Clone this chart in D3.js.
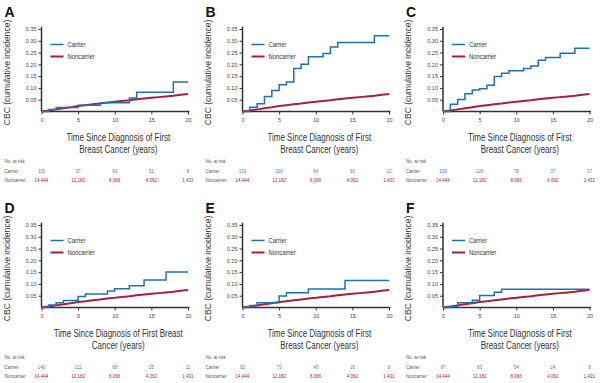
<!DOCTYPE html>
<html><head><meta charset="utf-8">
<script src="https://cdn.jsdelivr.net/npm/d3@7"></script>
<style>
body{margin:0;background:#fff;}
svg{display:block;}
text{font-family:"Liberation Sans",Arial,sans-serif;}
</style></head>
<body><svg id="chart" width="600" height="383"></svg>
<script>
const panelLabels = ["A","B","C","D","E","F"];
const xTicks = [0,5,10,15,20];
const yTicks = [0.05,0.10,0.15,0.20,0.25,0.30,0.35];
const seriesNames = ["Carrier","Noncarrier"];

const noncarrierYears = [0,1,2,3,4,5,6,7,8,9,10,11,12,13,14,15,16,17,18,19,20];
const noncarrierCBC = [0,0.004,0.009,0.014,0.018,0.023,0.027,0.031,0.034,0.038,0.041,0.045,0.048,0.052,0.055,0.058,0.061,0.064,0.067,0.071,0.074];

const carrierA = [[0,0],[1,0.008],[2,0.017],[5,0.027],[8,0.037],[12,0.057],[13,0.082],[18,0.125],[20,0.125]];
const carrierB = [[0,0],[1,0.018],[2,0.033],[3,0.064],[4,0.089],[5,0.114],[6,0.125],[7,0.182],[8,0.200],[9,0.232],[11,0.246],[12,0.274],[13,0.293],[18,0.321],[20,0.321]];
const carrierC = [[0,0],[1,0.031],[2,0.051],[3,0.075],[4,0.091],[5,0.097],[6,0.111],[7,0.148],[8,0.162],[9,0.173],[11,0.182],[12,0.193],[13,0.217],[14,0.229],[16,0.247],[18,0.268],[20,0.268]];
const carrierD = [[0,0],[1,0.011],[2,0.020],[3,0.030],[5,0.047],[6,0.057],[9,0.070],[10,0.080],[12,0.092],[14,0.117],[17,0.151],[20,0.151]];
const carrierE = [[0,0],[1,0.008],[2,0.020],[5,0.049],[6,0.063],[9,0.079],[14,0.115],[20,0.115]];
const carrierF = [[0,0],[1,0.004],[2,0.020],[4,0.031],[5,0.051],[7,0.065],[8,0.077],[20,0.077]];

const atRiskCarrierA = ["116","97","60","31","8"];
const atRiskCarrierB = ["131","100","64","30","12"];
const atRiskCarrierC = ["109","126","78","37","17"];
const atRiskCarrierD = ["140","111","68","25","11"];
const atRiskCarrierE = ["92","73","45","16","8"];
const atRiskCarrierF = ["97","83","54","24","8"];
const atRiskNoncarrier = ["14,444","12,182","8,066","4,062","1,431"];

const xTitleTop = ["Time Since Diagnosis of First","Breast Cancer (years)"];
const xTitleD = ["Time Since Diagnosis of First Breast","Cancer (years)"];

const carriers = [carrierA,carrierB,carrierC,carrierD,carrierE,carrierF];
const atRisk = [atRiskCarrierA,atRiskCarrierB,atRiskCarrierC,atRiskCarrierD,atRiskCarrierE,atRiskCarrierF];
const xTitles = [xTitleTop,xTitleTop,xTitleTop,xTitleD,xTitleTop,xTitleTop];

const BLUE = "#1f72b0", RED = "#a3203f", AX = "#333";
const svg = d3.select("#chart");
const colX = [41.5, 242.5, 443];
const rowY0 = [111.5, 307.5];
const plotW = 146.5, plotH35 = 82.5;

function condense(sel, f) {
  sel.each(function () {
    const L = this.getComputedTextLength();
    d3.select(this).attr("textLength", L * f).attr("lengthAdjust", "spacingAndGlyphs");
  });
}

panelLabels.forEach((lab, i) => {
  const col = i % 3, row = Math.floor(i / 3);
  const x0 = colX[col], y0 = rowY0[row];
  const g = svg.append("g");
  const x = d3.scaleLinear().domain([0,20]).range([x0, x0 + plotW]);
  const y = d3.scaleLinear().domain([0,0.35]).range([y0, y0 - plotH35]);

  g.append("text").attr("x", x0 - 37).attr("y", y0 - 94.5)
    .attr("font-size", 14).attr("font-weight", "bold").attr("fill", "#111").text(lab);

  const ya = g.append("g").attr("transform", `translate(${x0},0)`)
    .call(d3.axisLeft(y).tickValues(yTicks).tickFormat(d3.format(".2f")).tickSize(3).tickPadding(2));
  ya.select(".domain").attr("d", `M0,${y0}V${y(0.36)}`).attr("stroke", AX).attr("stroke-width", 1.5);
  ya.selectAll(".tick line").attr("stroke", AX).attr("stroke-width", 1);
  ya.selectAll(".tick text").attr("font-size", 5.5).attr("fill", "#444").style("font-family", "Liberation Sans, Arial, sans-serif");

  const xa = g.append("g").attr("transform", `translate(0,${y0})`)
    .call(d3.axisBottom(x).tickValues(xTicks).tickSize(3).tickPadding(4));
  xa.select(".domain").attr("d", `M${x0},0H${x(20.2)}`).attr("stroke", AX).attr("stroke-width", 1.5);
  xa.selectAll(".tick line").attr("stroke", AX).attr("stroke-width", 1);
  xa.selectAll(".tick text").attr("font-size", 5.5).attr("fill", "#444").style("font-family", "Liberation Sans, Arial, sans-serif");

  const yt = g.append("text").attr("transform", `translate(${x0 - 32},${y0 - 39}) rotate(-90)`)
    .attr("text-anchor", "middle").attr("font-size", 9.5).attr("fill", "#333")
    .text("CBC (cumulative incidence)");
  condense(yt, 0.9);

  xTitles[i].forEach((t, k) => {
    const tt = g.append("text").attr("x", x0 + plotW / 2 + 3.5).attr("y", y0 + 29.5 + k * 11.5)
      .attr("text-anchor", "middle").attr("font-size", 10).attr("fill", "#333").text(t);
    condense(tt, 0.8);
  });

  g.append("path").datum(noncarrierYears.map((t, k) => [t, noncarrierCBC[k]]))
    .attr("d", d3.line().x(d => x(d[0])).y(d => y(d[1])))
    .attr("fill", "none").attr("stroke", RED).attr("stroke-width", 2);
  g.append("path").datum(carriers[i])
    .attr("d", d3.line().curve(d3.curveStepAfter).x(d => x(d[0])).y(d => y(d[1])))
    .attr("fill", "none").attr("stroke", BLUE).attr("stroke-width", 1.5);

  seriesNames.forEach((nm, k) => {
    const ly = y0 - 67 + k * 12;
    g.append("line").attr("x1", x0 + 9).attr("x2", x0 + 22).attr("y1", ly).attr("y2", ly)
      .attr("stroke", k === 0 ? BLUE : RED).attr("stroke-width", k === 0 ? 1.5 : 2);
    const lt = g.append("text").attr("x", x0 + 26).attr("y", ly + 2.2).attr("font-size", 6.5)
      .attr("fill", "#333").text(nm);
    condense(lt, 0.9);
  });

  const rowsY = [y0 + 51.5, y0 + 61, y0 + 70];
  ["No. at risk","Carrier","Noncarrier"].forEach((t, k) => {
    g.append("text").attr("x", x0 - 37).attr("y", rowsY[k]).attr("font-size", 4.5).attr("fill", "#555").text(t);
  });
  xTicks.forEach((t, k) => {
    g.append("text").attr("x", x(t)).attr("y", rowsY[1]).attr("text-anchor", "middle")
      .attr("font-size", 4.5).attr("fill", "#2a86c8").text(atRisk[i][k]);
    g.append("text").attr("x", x(t)).attr("y", rowsY[2]).attr("text-anchor", "middle")
      .attr("font-size", 4.5).attr("fill", RED).text(atRiskNoncarrier[k]);
  });
});
</script></body></html>
